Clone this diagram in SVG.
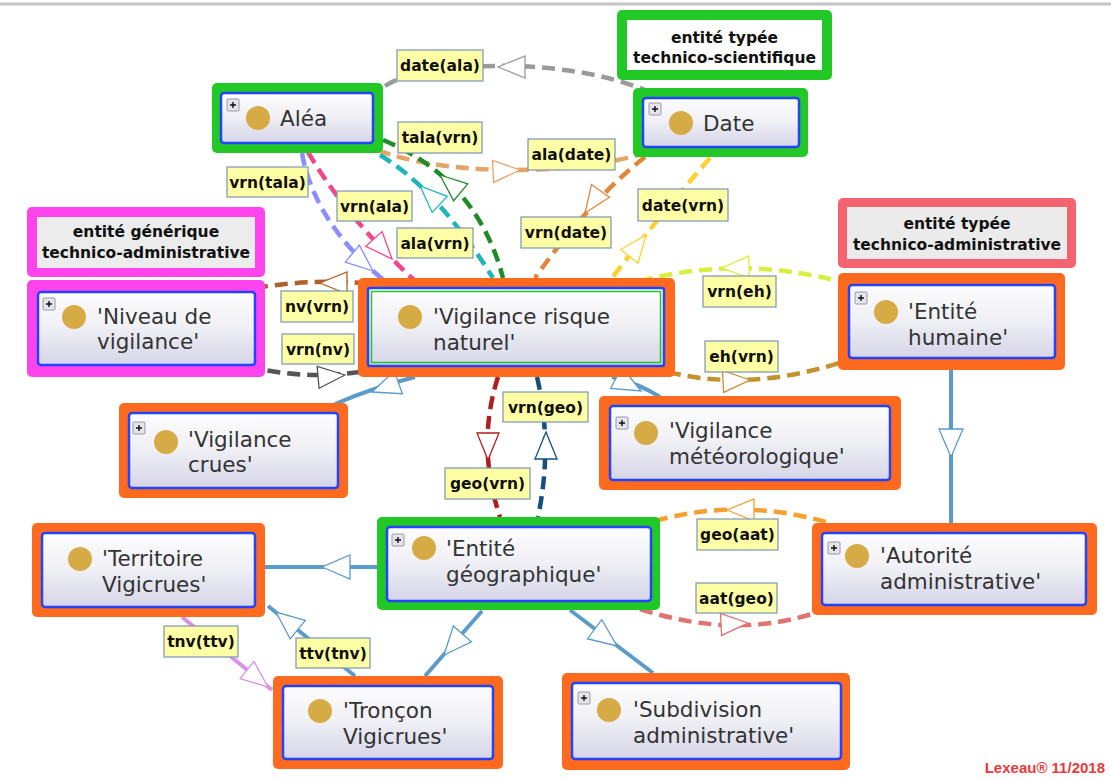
<svg xmlns="http://www.w3.org/2000/svg" width="1111" height="780" viewBox="0 0 1111 780">
<defs>
<linearGradient id="ng" x1="0" y1="0" x2="0" y2="1">
<stop offset="0" stop-color="#fdfdfe"/><stop offset="0.45" stop-color="#f1f1f6"/><stop offset="1" stop-color="#d5d5e8"/>
</linearGradient>
<polygon id="ah" points="0,0 -27,-11 -27,11"/>
<polygon id="bh" points="0,0 -28,-12 -28,12"/>
<g id="plus"><rect x="0" y="0" width="12" height="12" rx="1" fill="#e4e4ea" stroke="#9a9aa8" stroke-width="1"/><path d="M3,6H9M6,3V9" stroke="#111" stroke-width="1.4"/></g>
</defs>
<style>
.frame{stroke:#c4c4c4;stroke-width:3;fill:none}
.og{fill:#22c825}.oo{fill:#ff6a1f}.om{fill:#ff44ee}.or{fill:#f46470}
.inner{fill:url(#ng);stroke:#2244ff;stroke-width:2.5}
.dot{fill:#d6aa45}
.nt{font-family:"DejaVu Sans",sans-serif;font-size:21.5px;fill:#333}
.gt{font-family:"DejaVu Sans",sans-serif;font-weight:bold;font-size:15.5px;fill:#111;text-anchor:middle}
.lb rect{fill:#ffffa6;stroke:#7b95b5;stroke-width:1.2}
.lb text{font-family:"DejaVu Sans",sans-serif;font-weight:bold;font-size:15.5px;fill:#111;text-anchor:middle}
.e{fill:none;stroke-width:4}
.d{stroke-dasharray:13 7;stroke-width:4.5}
.tri{fill:#fff;stroke-width:1.3}
.sb{stroke:#5b9bc9}
</style>
<rect x="0" y="0" width="1111" height="780" fill="#fff"/>
<path class="frame" d="M0,4H1111"/>

<g id="connectors">
<!-- subclass links -->
<path class="e sb" d="M415,377 Q372,388 335,404"/>
<use href="#bh" class="tri sb" transform="translate(372,392) rotate(160)"/>
<path class="e sb" d="M612,377 Q640,384 660,397"/>
<use href="#bh" class="tri sb" transform="translate(641,391) rotate(28)"/>
<path class="e sb" d="M951,370 L951,523"/>
<use href="#bh" class="tri sb" transform="translate(951,457) rotate(90)"/>
<path class="e sb" d="M377,567 L265,567"/>
<use href="#bh" class="tri sb" transform="translate(322,567) rotate(180)"/>
<path class="e sb" d="M482,611 L425,676"/>
<use href="#bh" class="tri sb" transform="translate(444,655) rotate(131)"/>
<path class="e sb" d="M570,610 L653,673"/>
<use href="#bh" class="tri sb" transform="translate(617,646) rotate(37)"/>
<path class="e sb" d="M355,676 L268,606"/>
<use href="#bh" class="tri sb" transform="translate(276,612) rotate(-141)"/>
<path class="e" stroke="#d890e8" d="M182,617 L272,690"/>
<use href="#ah" class="tri" stroke="#d890e8" transform="translate(268,687) rotate(39)"/>

<!-- property links -->
<path class="e d" stroke="#9a9a9a" d="M385,86 C420,62 560,55 645,90"/>
<use href="#ah" class="tri" stroke="#9a9a9a" transform="translate(498,67) rotate(180)"/>
<path class="e d" stroke="#e6a468" d="M378,150 C430,172 560,180 648,152"/>
<use href="#ah" class="tri" stroke="#e6a468" transform="translate(520,170) rotate(-3)"/>
<path class="e d" stroke="#e0873c" d="M645,157 Q590,200 535,278"/>
<use href="#ah" class="tri" stroke="#e0873c" transform="translate(585,213) rotate(125)"/>
<path class="e d" stroke="#ffd030" d="M710,158 Q660,215 612,278"/>
<use href="#ah" class="tri" stroke="#ffd030" transform="translate(646,235) rotate(-52)"/>
<path class="e d" stroke="#1f8a28" d="M383,140 Q477,179 503,278"/>
<use href="#ah" class="tri" stroke="#1f8a28" transform="translate(440,175) rotate(220)"/>
<path class="e d" stroke="#22b4bc" d="M380,155 Q438,190 493,278"/>
<use href="#ah" class="tri" stroke="#22b4bc" transform="translate(420,186) rotate(223)"/>
<path class="e d" stroke="#f2468a" d="M308,152 C330,190 365,235 414,280"/>
<use href="#ah" class="tri" stroke="#f2468a" transform="translate(392,259) rotate(48)"/>
<path class="e d" stroke="#8a8cff" d="M302,153 C310,200 340,245 386,282"/>
<use href="#ah" class="tri" stroke="#8a8cff" transform="translate(373,271) rotate(40)"/>
<path class="e d" stroke="#b0602a" d="M255,288 Q310,279 364,283"/>
<use href="#ah" class="tri" stroke="#b0602a" transform="translate(320,283) rotate(180)"/>
<path class="e d" stroke="#555" d="M248,366 Q300,380 360,372"/>
<use href="#ah" class="tri" stroke="#555" transform="translate(345,375) rotate(-5)"/>
<path class="e d" stroke="#d8ee40" d="M640,281 Q740,255 842,282"/>
<use href="#ah" class="tri" stroke="#d8ee40" transform="translate(722,268) rotate(178)"/>
<path class="e d" stroke="#c3922e" d="M668,372 Q750,392 842,362"/>
<use href="#ah" class="tri" stroke="#c3922e" transform="translate(750,380) rotate(-3)"/>
<path class="e d" stroke="#11507f" d="M537,377 Q553,445 538,517"/>
<use href="#ah" class="tri" stroke="#11507f" transform="translate(546,432) rotate(-90)"/>
<path class="e d" stroke="#b01e1e" d="M498,377 Q476,445 500,517"/>
<use href="#ah" class="tri" stroke="#b01e1e" transform="translate(488,460) rotate(90)"/>
<path class="e d" stroke="#f5a030" d="M655,521 Q740,497 830,523"/>
<use href="#ah" class="tri" stroke="#f5a030" transform="translate(727,510) rotate(180)"/>
<path class="e d" stroke="#e07272" d="M640,609 Q735,640 818,612"/>
<use href="#ah" class="tri" stroke="#e07272" transform="translate(748,623) rotate(-3)"/>

<!-- labels -->
<g class="lb">
<rect x="397" y="50" width="86" height="31"/><text x="440" y="71">date(ala)</text>
<rect x="398" y="122" width="84" height="31"/><text x="440" y="143">tala(vrn)</text>
<rect x="528" y="139" width="87" height="31"/><text x="571.5" y="160">ala(date)</text>
<rect x="227" y="167" width="81" height="30"/><text x="267.5" y="187.5">vrn(tala)</text>
<rect x="337" y="191" width="75" height="30"/><text x="374.5" y="211.5">vrn(ala)</text>
<rect x="397" y="228" width="76" height="30"/><text x="435" y="248.5">ala(vrn)</text>
<rect x="638" y="189" width="90" height="32"/><text x="683" y="210.5">date(vrn)</text>
<rect x="521" y="217" width="90" height="31"/><text x="566" y="238">vrn(date)</text>
<rect x="281" y="291" width="72" height="31"/><text x="317" y="312">nv(vrn)</text>
<rect x="282" y="334" width="72" height="30"/><text x="318" y="354.5">vrn(nv)</text>
<rect x="703" y="276" width="73" height="31"/><text x="739.5" y="297">vrn(eh)</text>
<rect x="705" y="341" width="73" height="31"/><text x="741.5" y="362">eh(vrn)</text>
<rect x="503" y="392" width="85" height="30"/><text x="545.5" y="412.5">vrn(geo)</text>
<rect x="445" y="468" width="85" height="31"/><text x="487.5" y="489">geo(vrn)</text>
<rect x="697" y="519" width="81" height="31"/><text x="737.5" y="540">geo(aat)</text>
<rect x="696" y="583" width="81" height="30"/><text x="736.5" y="603.5">aat(geo)</text>
<rect x="164" y="626" width="74" height="31"/><text x="201" y="647">tnv(ttv)</text>
<rect x="296" y="638" width="74" height="30"/><text x="333" y="658.5">ttv(tnv)</text>
</g>
</g>

<g id="label-tech-sci">
<rect class="og" x="617" y="10" width="215" height="70" rx="5"/>
<rect x="627" y="20" width="195" height="50" fill="#fff"/>
<text class="gt" x="724.5" y="43">entité typée</text>
<text class="gt" x="724.5" y="63">technico-scientifique</text>
</g>
<g id="label-gen-adm">
<rect class="om" x="27" y="207" width="238" height="70" rx="5"/>
<rect x="37" y="217" width="218" height="51" fill="#ececec"/>
<text class="gt" x="146" y="237">entité générique</text>
<text class="gt" x="146" y="258">technico-administrative</text>
</g>
<g id="label-typ-adm">
<rect class="or" x="838" y="198" width="238" height="70" rx="5"/>
<rect x="847" y="207" width="220" height="52" fill="#ebebeb"/>
<text class="gt" x="957" y="229">entité typée</text>
<text class="gt" x="957" y="250">technico-administrative</text>
</g>

<g id="alea">
<rect class="og" x="212" y="83" width="171" height="70" rx="5"/>
<rect class="inner" x="221" y="93" width="152" height="50" rx="3"/>
<use href="#plus" x="227" y="99"/>
<circle class="dot" cx="258" cy="118" r="12"/>
<text class="nt" x="280" y="126">Aléa</text>
</g>
<g id="date">
<rect class="og" x="633" y="88" width="175" height="69" rx="5"/>
<rect class="inner" x="643" y="98" width="156" height="49" rx="3"/>
<use href="#plus" x="649" y="103"/>
<circle class="dot" cx="681" cy="123" r="12"/>
<text class="nt" x="703" y="131">Date</text>
</g>
<g id="niveau-vigilance">
<rect class="om" x="27" y="280" width="238" height="97" rx="5"/>
<rect class="inner" x="38" y="292" width="217" height="73" rx="3"/>
<use href="#plus" x="43" y="298"/>
<circle class="dot" cx="74" cy="317" r="12"/>
<text class="nt" x="97" y="324">'Niveau de</text>
<text class="nt" x="97" y="349">vigilance'</text>
</g>
<g id="vigilance-risque-naturel">
<rect class="oo" x="358" y="278" width="317" height="99" rx="5"/>
<rect class="inner" x="368" y="288" width="296" height="78" rx="2"/>
<rect x="371.5" y="291.5" width="289" height="71" fill="none" stroke="#22c825" stroke-width="1.5"/>
<circle class="dot" cx="410" cy="317" r="12"/>
<text class="nt" x="433" y="324">'Vigilance risque</text>
<text class="nt" x="433" y="350">naturel'</text>
</g>
<g id="entite-humaine">
<rect class="oo" x="838" y="273" width="227" height="97" rx="5"/>
<rect class="inner" x="849" y="285" width="206" height="73" rx="3"/>
<use href="#plus" x="855" y="292"/>
<circle class="dot" cx="886" cy="312" r="12"/>
<text class="nt" x="908" y="319">'Entité</text>
<text class="nt" x="908" y="345">humaine'</text>
</g>
<g id="vigilance-crues">
<rect class="oo" x="119" y="403" width="229" height="95" rx="5"/>
<rect class="inner" x="129" y="413" width="209" height="75" rx="3"/>
<use href="#plus" x="133" y="422"/>
<circle class="dot" cx="166" cy="442" r="12"/>
<text class="nt" x="188" y="447">'Vigilance</text>
<text class="nt" x="188" y="472">crues'</text>
</g>
<g id="vigilance-meteo">
<rect class="oo" x="599" y="396" width="302" height="94" rx="5"/>
<rect class="inner" x="610" y="406" width="280" height="74" rx="3"/>
<use href="#plus" x="616" y="417"/>
<circle class="dot" cx="646" cy="433" r="12"/>
<text class="nt" x="669" y="438">'Vigilance</text>
<text class="nt" x="669" y="464">météorologique'</text>
</g>
<g id="entite-geographique">
<rect class="og" x="377" y="517" width="283" height="93" rx="5"/>
<rect class="inner" x="387" y="527" width="264" height="74" rx="3"/>
<use href="#plus" x="392" y="534"/>
<circle class="dot" cx="424" cy="548" r="12"/>
<text class="nt" x="446" y="556">'Entité</text>
<text class="nt" x="446" y="582">géographique'</text>
</g>
<g id="autorite-administrative">
<rect class="oo" x="812" y="523" width="285" height="92" rx="5"/>
<rect class="inner" x="822" y="533" width="264" height="72" rx="3"/>
<use href="#plus" x="828" y="542"/>
<circle class="dot" cx="857" cy="556" r="12"/>
<text class="nt" x="880" y="563">'Autorité</text>
<text class="nt" x="880" y="589">administrative'</text>
</g>
<g id="territoire-vigicrues">
<rect class="oo" x="32" y="523" width="233" height="94" rx="5"/>
<rect class="inner" x="42" y="533" width="213" height="74" rx="3"/>
<circle class="dot" cx="80" cy="559" r="12"/>
<text class="nt" x="102" y="566">'Territoire</text>
<text class="nt" x="102" y="592">Vigicrues'</text>
</g>
<g id="troncon-vigicrues">
<rect class="oo" x="273" y="676" width="230" height="93" rx="5"/>
<rect class="inner" x="283" y="686" width="210" height="73" rx="3"/>
<circle class="dot" cx="320" cy="711" r="12"/>
<text class="nt" x="343" y="718">'Tronçon</text>
<text class="nt" x="343" y="744">Vigicrues'</text>
</g>
<g id="subdivision-administrative">
<rect class="oo" x="562" y="673" width="288" height="97" rx="5"/>
<rect class="inner" x="572" y="683" width="269" height="76" rx="3"/>
<use href="#plus" x="578" y="692"/>
<circle class="dot" cx="609" cy="710" r="12"/>
<text class="nt" x="633" y="717">'Subdivision</text>
<text class="nt" x="633" y="743">administrative'</text>
</g>

<text x="1105" y="773" text-anchor="end" font-family="Liberation Sans, Arial, sans-serif" font-weight="bold" font-size="15" fill="#e83a3a">Lexeau® 11/2018</text>
</svg>
